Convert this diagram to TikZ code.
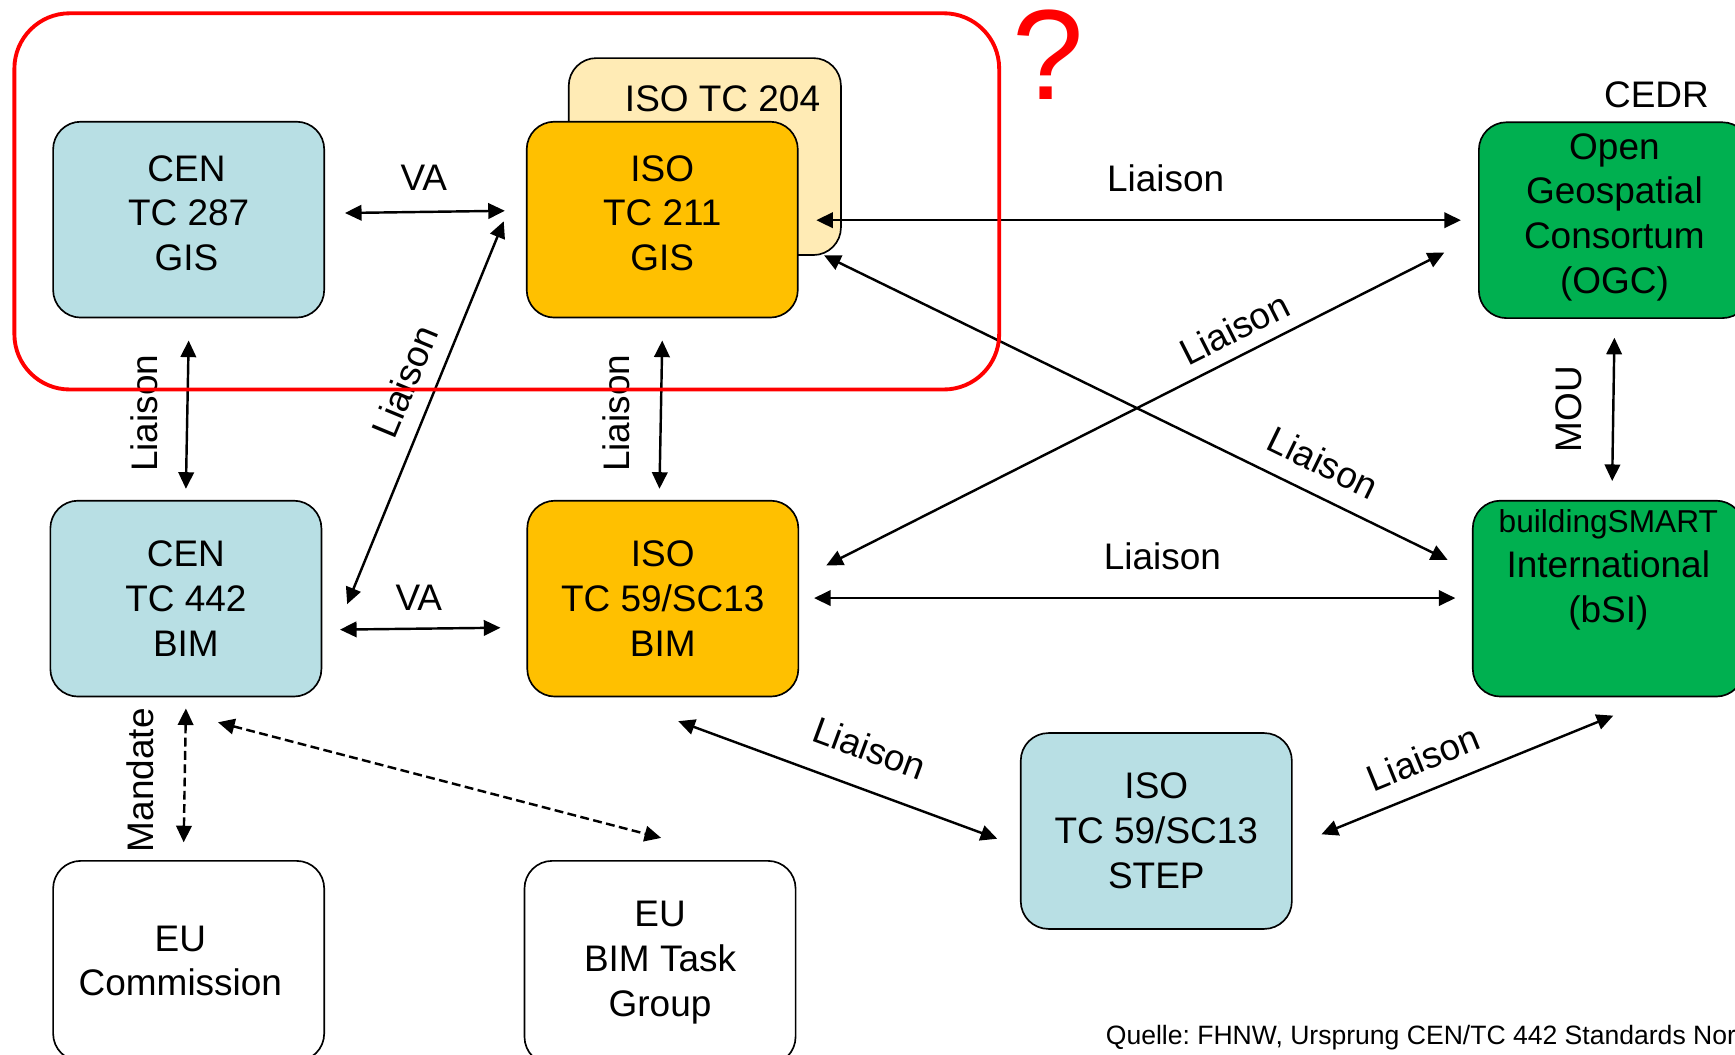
\documentclass[tikz,border=0pt]{standalone}
\usepackage{fontspec}
\setmainfont{Liberation Sans}
\usetikzlibrary{arrows.meta,calc}
\definecolor{cenblue}{RGB}{184,223,228}
\definecolor{isoorange}{RGB}{255,192,0}
\definecolor{isolight}{RGB}{255,235,181}
\definecolor{ogcgreen}{RGB}{0,176,80}
\definecolor{markred}{RGB}{255,0,0}
\newcommand{\mainfs}{\fontsize{16.7}{20.25}\selectfont}
\newcommand{\dpstrut}[1]{\rule[-#1]{0pt}{#1}}
\frenchspacing
\begin{document}
\begin{tikzpicture}[x=0.5pt, y=-0.5pt,
  box/.style={draw=black, line width=0.75pt, rounded corners=12.5pt,
    minimum width=122.5pt, minimum height=88.5pt, inner sep=0pt,
    align=center, font=\mainfs},
  lbl/.style={inner sep=0pt, font=\mainfs},
  link/.style={line width=1.1pt, <->, >={Triangle[length=7.5pt,width=7pt]}},
  dlink/.style={link, dash pattern=on 4pt off 2pt},
]
\useasboundingbox (0,0) rectangle (1568,953);
\clip (0,0) rectangle (1568,953);

% boxes
\node[box, fill=isolight, minimum width=123pt, minimum height=89pt] (tc204) at (637,141.5) {\hspace*{16pt}ISO TC 204\dpstrut{52.5pt}};
\node[box, fill=isoorange] (iso211) at (598.5,198.5) {ISO\\TC 211\\GIS\dpstrut{6pt}};
\node[box, fill=cenblue] (cen287) at (170.5,198.5) {CEN\hspace*{2pt}\\TC 287\hspace*{2pt}\\GIS\hspace*{2pt}\dpstrut{6pt}};
\node[box, fill=cenblue] (cen442) at (168,541) {CEN\\TC 442\\BIM};
\node[box, fill=isoorange] (iso59) at (599,541) {ISO\\TC 59/SC13\\BIM};
\node[box, fill=ogcgreen] (ogc) at (1459,199) {Open\\Geospatial\\Consortum\\(OGC)\dpstrut{6.2pt}};
\node[box, fill=ogcgreen] (bsi) at (1453.5,541) {{\fontsize{14.3}{20.25}\selectfont buildingSMART}\\International\\(bSI)\dpstrut{29.7pt}};
\node[box, fill=cenblue] (step) at (1045,751) {ISO\\TC 59/SC13\\STEP};
\node[box, fill=white, minimum height=90.5pt] (eucom) at (170.5,868.5) {EU\hspace*{7.5pt}\\Commission\hspace*{7.5pt}};
\node[box, fill=white, minimum height=92pt] (eubim) at (596.5,870) {EU\\BIM Task\\Group};

% connectors
\draw[link] ($(cen287.east)+(18,-6)$) -- ($(iso211.west)+(-19,-8)$);
\draw[link] ($(cen442.east)+(16,28)$) -- ($(iso59.west)+(-23.5,26.3)$);
\draw[link] ($(cen287.south)+(0,20)$) -- ($(cen442.north)+(0,-10)$);
\draw[link] ($(iso211.west)+(-20,1.5)$) -- ($(cen442.east)+(22.5,5)$);
\draw[link] ($(iso211.south)+(0,20)$) -- ($(iso59.north)+(-3,-10)$);
\draw[link] ($(iso211.east)+(16,0.5)$) -- ($(ogc.west)+(-15.5,0)$);
\draw[link] ($(iso211.south east)+(23,-57)$) -- ($(bsi.west)+(-22,-35)$);
\draw[link] ($(iso59.east)+(24.5,-30)$) -- ($(ogc.south west)+(-30.5,-60)$);
\draw[link] ($(iso59.east)+(13.5,-0.5)$) -- ($(bsi.west)+(-15,-0.5)$);
\draw[link] ($(ogc.south)+(0,17)$) -- ($(bsi.north)+(3.5,-17)$);
\draw[link] ($(iso59.south)+(14,21.5)$) -- ($(step.west)+(-20.5,7)$);
\draw[link] ($(step.east)+(26,3)$) -- ($(bsi.south)+(4.5,16.5)$);
\draw[dlink] ($(cen442.south)+(0,10)$) -- ($(eucom.north)+(-4.5,-16)$);
\draw[dlink] ($(cen442.south)+(29,22.5)$) -- ($(eubim.north)+(1,-20)$);

% labels
\node[lbl] (vatop) at (383,161) {VA};
\node[lbl] (vabot) at (378.5,540) {VA};
\node[lbl, rotate=90] (lialeft) at (130,373.5) {Liaison};
\node[lbl, rotate=67.5] (liadiag) at (366,345) {Liaison};
\node[lbl, rotate=90] (liamid) at (557,373.5) {Liaison};
\node[lbl] (liatop) at (1053.5,161.5) {Liaison};
\node[lbl, rotate=26.85] (liaogc) at (1115.5,297) {Liaison};
\node[lbl, rotate=-26] (liabsi) at (1196,418) {Liaison};
\node[lbl] (liahor) at (1050.5,503) {Liaison};
\node[lbl, rotate=90] (mou) at (1418,370) {MOU};
\node[lbl, rotate=-20.3] (liastep) at (786,676) {Liaison};
\node[lbl, rotate=22.2] (liastepb) at (1286,685) {Liaison};
\node[lbl, rotate=90] (mandate) at (127,705) {Mandate};
\node[lbl] (cedr) at (1497,86) {CEDR};
\node[inner sep=0pt, anchor=base west, font=\fontsize{12}{14}\selectfont] (src) at (999,944.2) {Quelle: FHNW, Ursprung CEN/TC 442 Standards Nor};

% highlight frame and question mark
\node[draw=markred, line width=1.75pt, rounded corners=25pt, minimum width=445pt, minimum height=170pt, inner sep=0pt] (focus) at (458,182) {};
\node[inner sep=0pt, text=markred, font=\fontsize{58}{58}\selectfont] (qmark) at (947,49) {?};
\end{tikzpicture}
\end{document}
